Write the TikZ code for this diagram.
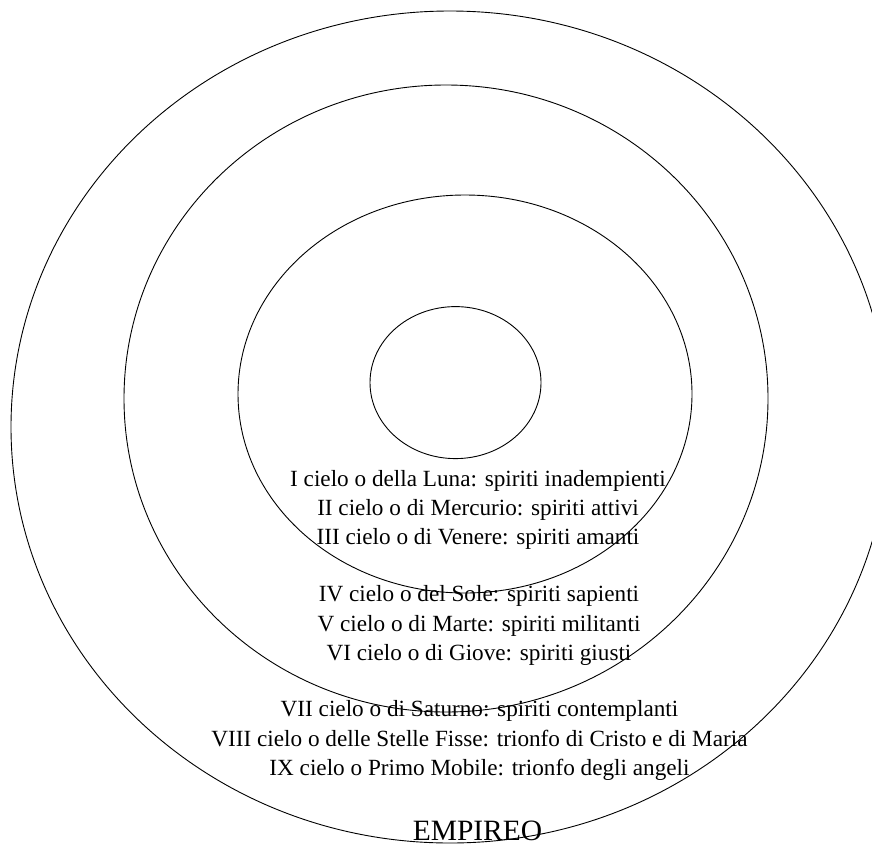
\documentclass[tikz,border=0pt]{standalone}
\usepackage{fontspec}
\setmainfont{Liberation Serif}
\begin{document}
\begin{tikzpicture}[
      x=1pt, y=-1pt,
      cielo/.style={draw, line width=0.9pt},
      testo/.style={align=center, inner sep=0pt, font=\fontsize{23.2}{29.2}\selectfont},
      titolo/.style={inner sep=0pt, font=\fontsize{29.5}{35}\selectfont}
  ]
  \useasboundingbox (0,0) rectangle (872,846);

  % Cieli
  \draw[cielo] (450,427) ellipse [x radius=439pt, y radius=416pt];
  \draw[cielo] (446,398.5) ellipse [x radius=322pt, y radius=313.5pt];
  \draw[cielo] (465,394) ellipse [x radius=227pt, y radius=199pt];
  \draw[cielo] (455.5,382.6) ellipse [x radius=85.5pt, y radius=76pt];

  % Testi
  \node[testo] (luna) at (478,510) {I cielo o della Luna: spiriti inadempienti\\II cielo o di Mercurio: spiriti attivi\\III cielo o di Venere: spiriti amanti};
  \node[testo] (sole) at (479,625.5) {IV cielo o del Sole: spiriti sapienti\\V cielo o di Marte: spiriti militanti\\VI cielo o di Giove: spiriti giusti};
  \node[testo] (saturno) at (479.5,740.5) {VII cielo o di Saturno: spiriti contemplanti\\VIII cielo o delle Stelle Fisse: trionfo di Cristo e di Maria\\IX cielo o Primo Mobile: trionfo degli angeli};
  \node[titolo] (empireo) at (477.5,831) {EMPIREO};

\end{tikzpicture}
\end{document}
